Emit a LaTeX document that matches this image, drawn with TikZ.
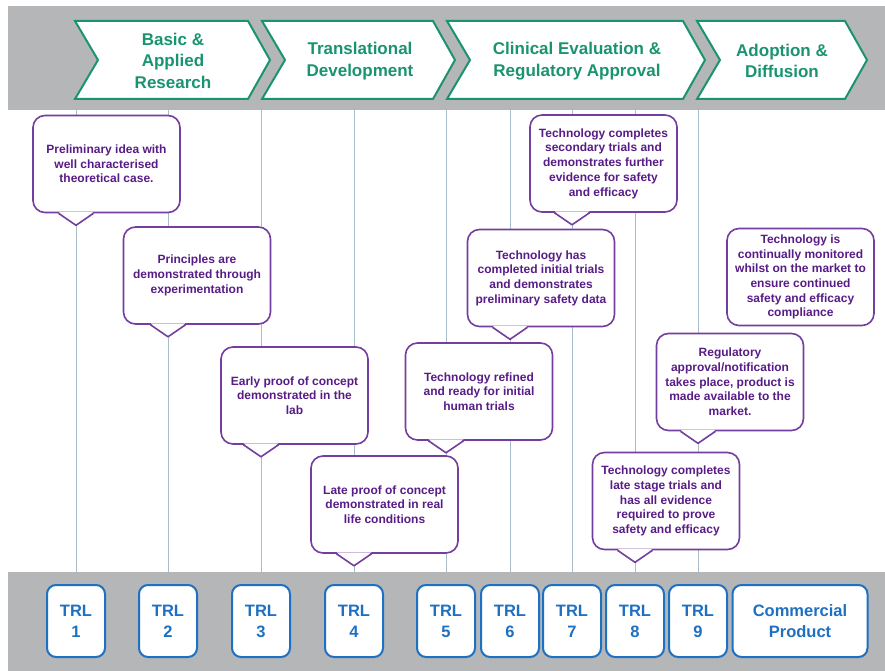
\documentclass[tikz,border=0pt]{standalone}
\usepackage{fontspec}
\setmainfont{Liberation Sans}
\usepackage{tikz}
\usetikzlibrary{calc}

\definecolor{bandgray}{RGB}{180,182,184}
\definecolor{phasegreen}{RGB}{26,148,112}
\definecolor{trlblue}{RGB}{30,112,194}
\definecolor{callpurple}{RGB}{116,62,160}
\definecolor{calltext}{RGB}{88,28,135}
\definecolor{vlinecol}{RGB}{168,188,204}

% pointer under a callout, tip on the line of a TRL box
\newcommand{\calltail}[2]{%
    \fill[white] ($(#1.south -| #2)+(-17.5,-1.5)$) -- ($(#1.south -| #2)+(0,12)$) -- ($(#1.south -| #2)+(17.5,-1.5)$) -- cycle;
    \draw[callline] ($(#1.south -| #2)+(-17.5,0)$) -- ($(#1.south -| #2)+(0,12)$) -- ($(#1.south -| #2)+(17.5,0)$);
}

\begin{document}
\begin{tikzpicture}[x=1pt, y=-1pt,
    phase/.style={draw=phasegreen, line width=2pt, fill=white},
    phasetext/.style={text=phasegreen, font=\fontsize{17}{21.5}\selectfont\bfseries, align=center},
    trlbox/.style={draw=trlblue, line width=2pt, fill=white, rounded corners=9pt, minimum width=58pt, minimum height=72pt, text=trlblue, font=\fontsize{16.5}{21}\selectfont\bfseries, align=center, inner sep=0pt},
    callbox/.style={draw=callpurple, line width=1.6pt, fill=white, rounded corners=12pt, minimum width=147pt, minimum height=97pt, text=calltext, font=\fontsize{12}{14.7}\selectfont\bfseries, align=center, inner sep=0pt},
    callline/.style={draw=callpurple, line width=1.6pt, line join=round},
    vline/.style={draw=vlinecol, line width=0.8pt}]

    \useasboundingbox (0,0) rectangle (885,671);
    \fill[white] (0,0) rectangle (885,671);

    \fill[bandgray] (8,6) rectangle (885,110);
    \fill[bandgray] (8,572) rectangle (885,671);
    \coordinate (topedge) at (0,110);
    \coordinate (botedge) at (0,572);

    \foreach \xa/\xb in {75/248, 262/433, 447/683, 697/845}{
        \draw[phase] (\xa,21) -- (\xa+23,60) -- (\xa,99) -- (\xb,99) -- (\xb+22,60) -- (\xb,21) -- cycle;
    }
    \node[phasetext] (ph1) at (173,60.5) {Basic \&\\Applied\\Research};
    \node[phasetext] (ph2) at (360,61) {Translational\\Development};
    \node[phasetext] (ph3) at (577,61) {Clinical Evaluation \&\\Regulatory Approval};
    \node[phasetext] (ph4) at (782,61) {Adoption \&\\Diffusion};

    \foreach \x [count=\i] in {76,168,261,354,446,510,572,635,698}{
        \node[trlbox] (t\i) at (\x,621) {TRL\\\i};
        \draw[vline] (t\i |- topedge) -- (t\i |- botedge);
    }
    \node[trlbox, minimum width=135pt] (cp) at (800,621) {Commercial\\Product};

    \node[callbox] (c1) at (106.5,164) {Preliminary idea with\\well characterised\\theoretical case.};
    \calltail{c1}{t1}
    \node[callbox] (c2) at (197,275.5) {Principles are\\demonstrated through\\experimentation};
    \calltail{c2}{t2}
    \node[callbox] (c3) at (294.5,395.5) {Early proof of concept\\demonstrated in the\\lab};
    \calltail{c3}{t3}
    \node[callbox] (c4) at (384.5,504.5) {Late proof of concept\\demonstrated in real\\life conditions};
    \calltail{c4}{t4}
    \node[callbox] (c5) at (479,391.5) {Technology refined\\and ready for initial\\human trials};
    \calltail{c5}{t5}
    \node[callbox] (c6) at (541,278) {Technology has\\completed initial trials\\and demonstrates\\preliminary safety data};
    \calltail{c6}{t6}
    \node[callbox] (c7) at (603.5,163.5) {Technology completes\\secondary trials and\\demonstrates further\\evidence for safety\\and efficacy};
    \calltail{c7}{t7}
    \node[callbox] (c8) at (800.5,277) {Technology is\\continually monitored\\whilst on the market to\\ensure continued\\safety and efficacy\\compliance};
    \node[callbox] (c9) at (730,382) {Regulatory\\approval/notification\\takes place, product is\\made available to the\\market.};
    \calltail{c9}{t9}
    \node[callbox] (c10) at (666,501) {Technology completes\\late stage trials and\\has all evidence\\required to prove\\safety and efficacy};
    \calltail{c10}{t8}

\end{tikzpicture}
\end{document}
